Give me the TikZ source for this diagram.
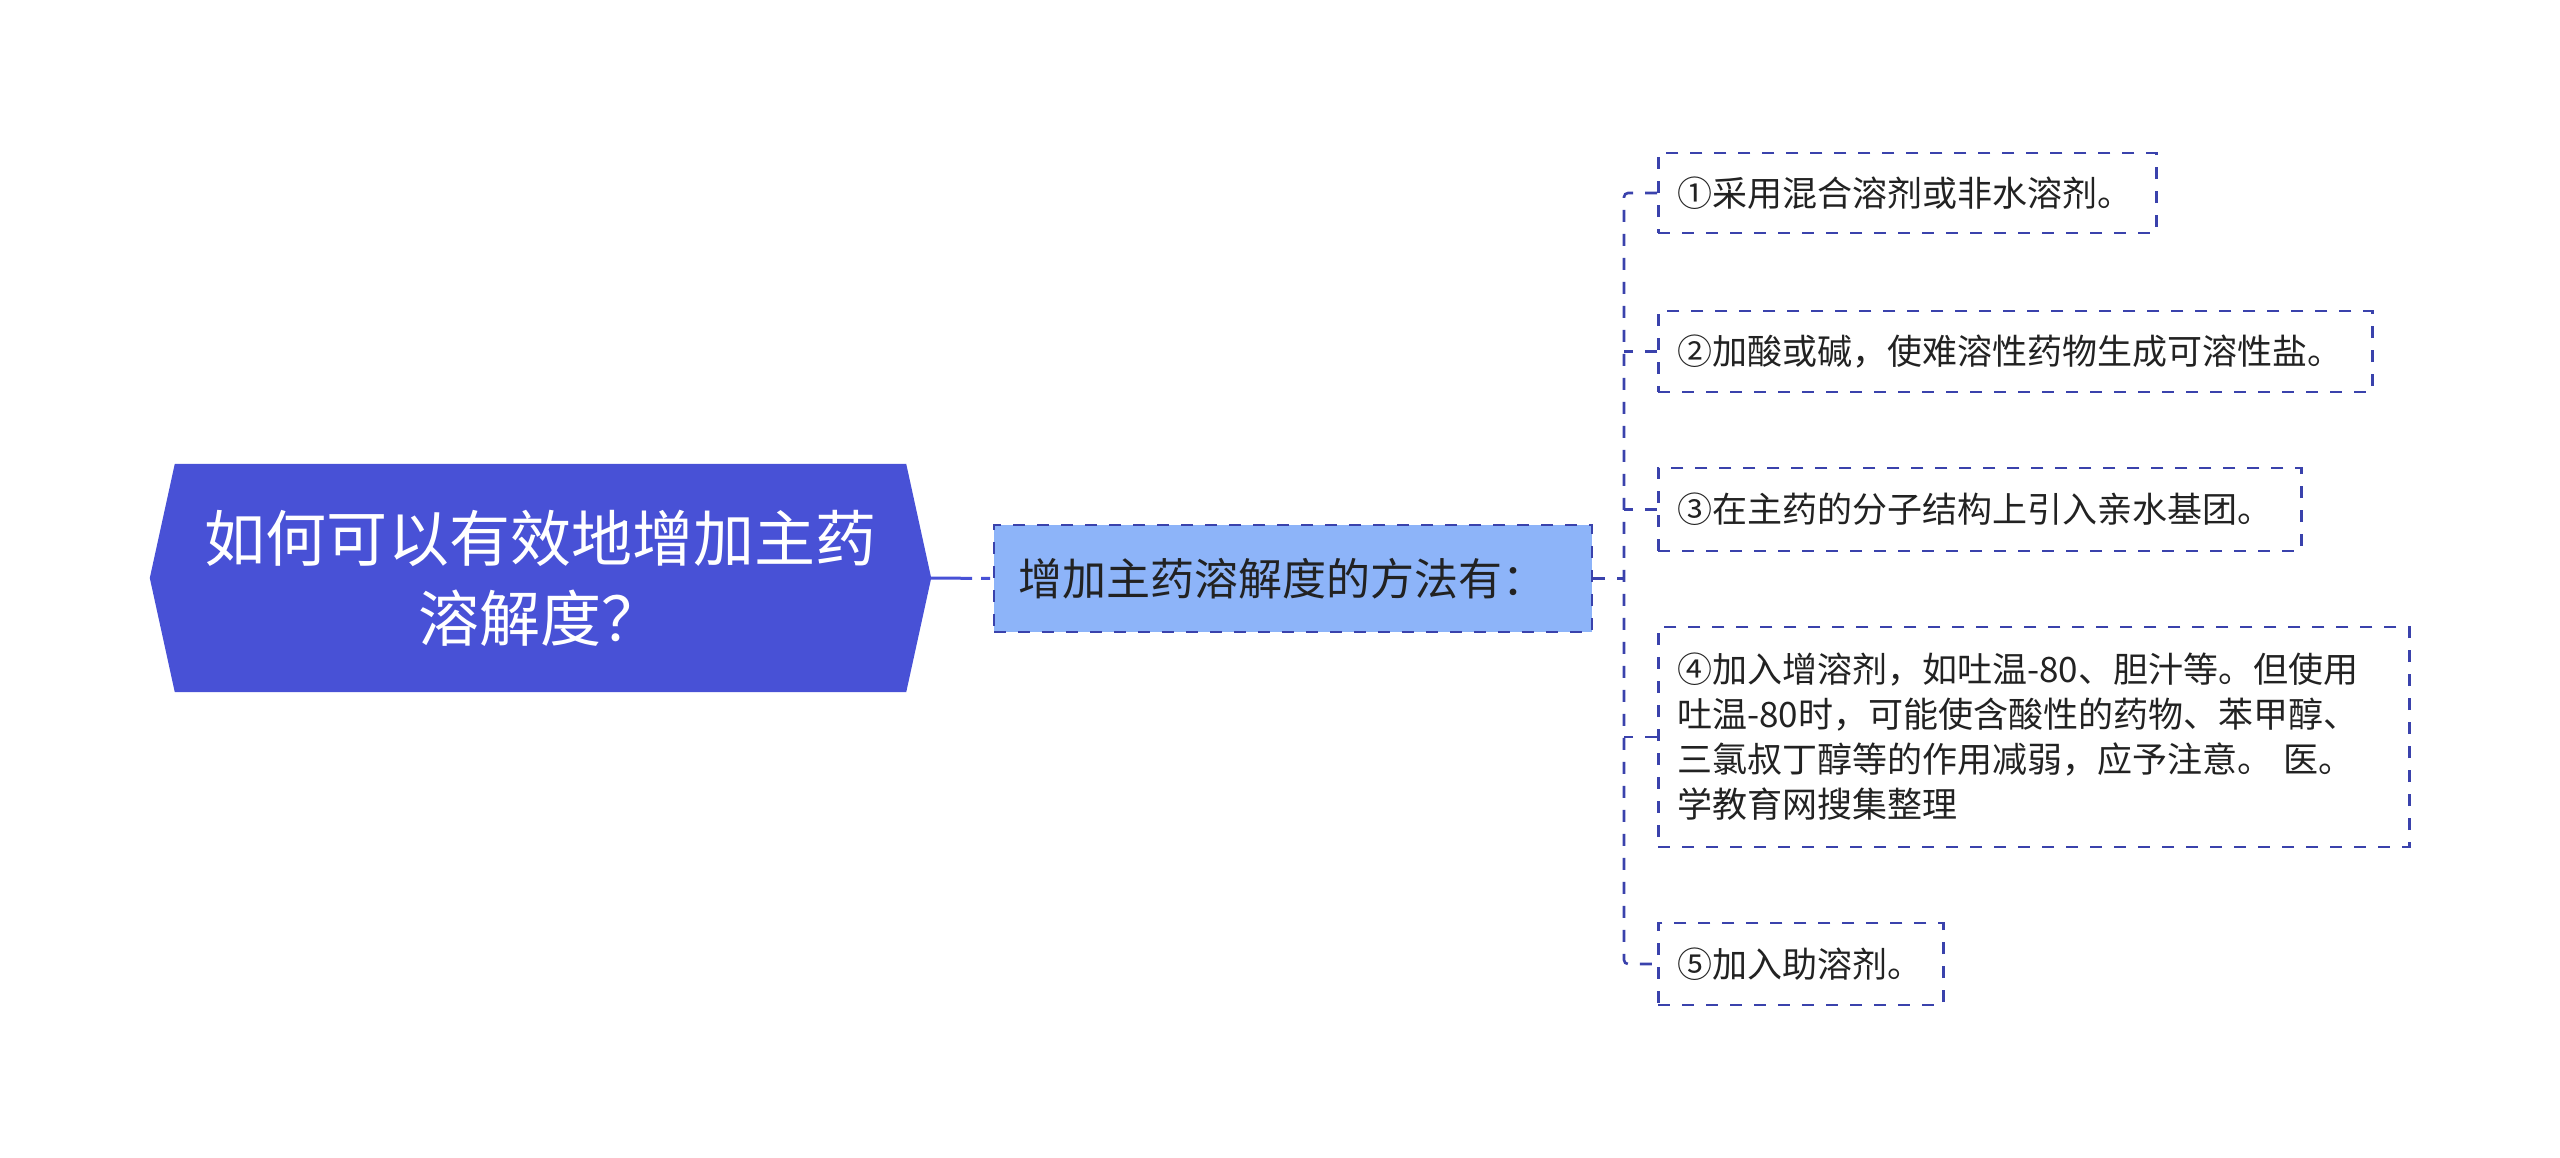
\documentclass[tikz,border=0pt]{standalone}
\usepackage{fontspec}
\setmainfont{Noto Sans CJK SC}
\usetikzlibrary{backgrounds,calc}
\definecolor{rootfill}{RGB}{72,81,214}
\definecolor{subfill}{RGB}{141,180,249}
\definecolor{dashcol}{RGB}{58,66,172}
\definecolor{txt}{RGB}{34,34,34}
\tikzset{
  rootbox/.style={rectangle, inner sep=0pt, minimum width=731bp, minimum height=228bp,
    text=white, align=center, font=\fontsize{61bp}{80bp}\selectfont},
  subbox/.style={rectangle, draw=dashcol, fill=subfill, line width=2.6bp,
    dash pattern=on 12bp off 12bp, inner xsep=24bp, inner ysep=0pt,
    text width=550bp, minimum height=107bp, align=left, text=txt,
    font=\fontsize{44bp}{56bp}\selectfont},
  leafbox/.style={rectangle, draw=dashcol, line width=2.6bp,
    dash pattern=on 12bp off 12bp, inner xsep=19bp, inner ysep=0pt,
    align=left, anchor=west, text=txt,
    font=\fontsize{35bp}{45bp}\selectfont},
  dconn/.style={draw=dashcol, line width=2.6bp, dash pattern=on 12bp off 12bp, rounded corners=4bp},
}
\begin{document}
\begin{tikzpicture}[x=1bp,y=-1bp]
\useasboundingbox (0,0) rectangle (2560,1157);
% root
\node[rootbox] (root) at (540.5,578) {如何可以有效地增加主药\\溶解度？};
\begin{scope}[on background layer]
\fill[rootfill] (root.north west) -- (root.north east) -- ([xshift=25bp]root.east)
  -- (root.south east) -- (root.south west) -- ([xshift=-25bp]root.west) -- cycle;
\end{scope}
\coordinate (rootR) at ([xshift=25bp]root.east);
% sub
\node[subbox] (sub) at (1293,578.5) {增加主药溶解度的方法有：};
% leaves
\node[leafbox, text width=460bp, minimum height=80bp] (c1) at (1657,193) {①采用混合溶剂或非水溶剂。};
\node[leafbox, text width=676bp, minimum height=81bp] (c2) at (1657,351.5) {②加酸或碱，使难溶性药物生成可溶性盐。};
\node[leafbox, text width=605bp, minimum height=83bp] (c3) at (1657,509.5) {③在主药的分子结构上引入亲水基团。};
\node[leafbox, text width=713bp, minimum height=220bp] (c4) at (1657,737) {④加入增溶剂，如吐温-80、胆汁等。但使用\\吐温-80时，可能使含酸性的药物、苯甲醇、\\三氯叔丁醇等的作用减弱，应予注意。 医。\\学教育网搜集整理};
\node[leafbox, text width=247bp, minimum height=82bp] (c5) at (1657,964) {⑤加入助溶剂。};
% connectors
\draw[draw=rootfill, line width=3bp, dash pattern=on 41bp off 9bp on 9bp off 20bp] (rootR) -- (sub.west);
\coordinate (trunk) at (1624,578.5);
\draw[dconn] (sub.east) -- (trunk);
\draw[dconn] (c1.west) -| (trunk) |- (c5.west);
\draw[dconn] (c2.west) -- (c2.west -| trunk);
\draw[dconn] (c3.west) -- (c3.west -| trunk);
\draw[dconn] (c4.west) -- (c4.west -| trunk);
\end{tikzpicture}
\end{document}
